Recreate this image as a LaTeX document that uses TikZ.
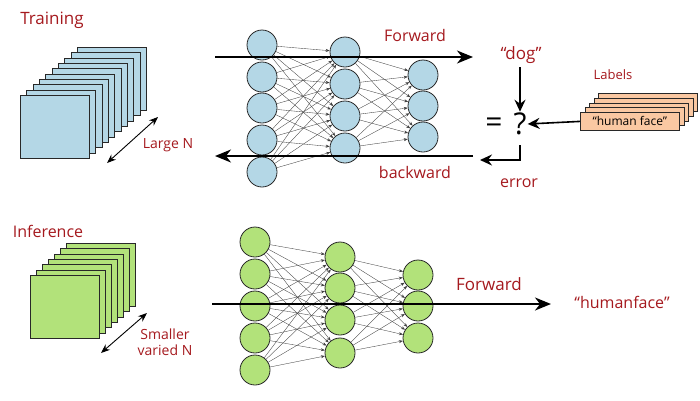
\documentclass[tikz,border=0pt]{standalone}
\usepackage{fontspec}
\setmainfont{Open Sans}
\usetikzlibrary{arrows.meta}
\definecolor{nblue}{RGB}{180,215,230}
\definecolor{ngreen}{RGB}{178,226,122}
\definecolor{npeach}{RGB}{250,200,162}
\definecolor{nred}{RGB}{165,25,30}
\definecolor{nline}{RGB}{40,40,40}
\newcommand{\fs}[1]{\fontsize{#1}{#1}\selectfont}
\begin{document}
\begin{tikzpicture}[x=1pt,y=-1pt,
  neuron/.style={circle,draw=nline,line width=0.8pt,minimum size=30pt,inner sep=0pt},
  bneuron/.style={neuron,fill=nblue},
  gneuron/.style={neuron,fill=ngreen},
  conn/.style={line width=0.35pt,draw=black!75,-{Stealth[length=4pt,width=3pt]}},
  flow/.style={line width=1.8pt,-{Stealth[length=16pt,width=13pt,inset=5pt]}},
  small flow/.style={line width=1.6pt,-{Stealth[length=12pt,width=11pt,inset=4pt]}},
  lbl/.style={text=nred,font=\fs{16}},
  sheet/.style={draw=nline,line width=1.1pt,minimum width=69pt,minimum height=63pt,inner sep=0pt,anchor=north west},
  labbox/.style={draw=nline,line width=0.8pt,fill=npeach,minimum width=99pt,minimum height=18pt,inner sep=0pt,anchor=north west,font=\fs{12}},
  dbl/.style={line width=0.9pt,{Stealth[length=9pt,width=7pt]}-{Stealth[length=9pt,width=7pt]}}
]
\useasboundingbox (0,0) rectangle (700,400);

% ---------- Training ----------
\node[lbl,font=\fs{17}] (ttitle) at (52,20) {Training};
\foreach \i in {9,...,0}
  \node[sheet,fill=nblue] (ts\i) at ({20+6.33*\i},{95-5.33*\i}) {};
\coordinate (tnA) at (107,163);
\coordinate (tnB) at (158,117);
\draw[dbl] (tnA) -- (tnB);
\node[lbl,font=\fs{14}] (tlarge) at (168,145) {Large N};

\foreach \y [count=\i] in {45,77,108,140,172}
  \node[bneuron] (ta\i) at (262,\y) {};
\foreach \y [count=\i] in {52,84,116,148}
  \node[bneuron] (tb\i) at (345,\y) {};
\foreach \y [count=\i] in {75,106,137}
  \node[bneuron] (tc\i) at (423,\y) {};
\foreach \i in {1,...,5}
  \foreach \j in {1,...,4}
    \draw[conn] (ta\i) -- (tb\j);
\foreach \i in {1,...,4}
  \foreach \j in {1,...,3}
    \draw[conn] (tb\i) -- (tc\j);

\coordinate (tfs) at (215,57);
\coordinate (tfe) at (473,57);
\draw[flow] (tfs) -- (tfe);
\coordinate (tbs) at (473,156);
\coordinate (tbe) at (215,156);
\draw[flow] (tbs) -- (tbe);
\node[lbl] (tfwd) at (415,35) {Forward};
\node[lbl] (tbwd) at (415,172) {backward};

\node[lbl,font=\fs{17}] (dog) at (521,55) {“dog”};
\node[font=\fs{30},inner sep=1pt] (qm) at (520,124) {?};
\node[font=\fs{30},inner sep=1pt] (eqs) at (494,125) {=};
\coordinate (dogA) at (520,67);
\draw[small flow] (dogA) -- (qm.north);

\node[lbl,font=\fs{13}] (labels) at (613,75) {Labels};
\foreach \i in {4,...,1}
  \node[labbox] (lb\i) at ({580+4.5*\i},{112-4.7*\i}) {};
\node[labbox] (lb0) at (580,112) {“human face”};
\draw[small flow] (lb0.west) -- (qm.east);

\coordinate (errA) at (520,145);
\coordinate (errend) at (480,160);
\draw[small flow] (errA) |- (errend);
\node[lbl,font=\fs{16}] (err) at (519,183) {error};

% ---------- Inference ----------
\node[lbl,font=\fs{16}] (ititle) at (48,231) {Inference};
\foreach \i in {6,...,0}
  \node[sheet,fill=ngreen] (is\i) at ({30+6*\i},{275-5.33*\i}) {};
\coordinate (inA) at (101,353);
\coordinate (inB) at (147,313);
\draw[dbl] (inA) -- (inB);
\node[lbl,font=\fs{14},align=center] (ismall) at (165,342) {Smaller\\[2pt]varied N};

\foreach \y [count=\i] in {242,274,306,338,370}
  \node[gneuron] (ia\i) at (255,\y) {};
\foreach \y [count=\i] in {257,288,320,353}
  \node[gneuron] (ib\i) at (340,\y) {};
\foreach \y [count=\i] in {275,306,338}
  \node[gneuron] (ic\i) at (418,\y) {};
\foreach \i in {1,...,5}
  \foreach \j in {1,...,4}
    \draw[conn] (ia\i) -- (ib\j);
\foreach \i in {1,...,4}
  \foreach \j in {1,...,3}
    \draw[conn] (ib\i) -- (ic\j);

\coordinate (ifs) at (212,304);
\coordinate (ife) at (551,304);
\draw[flow] (ifs) -- (ife);
\node[lbl,font=\fs{17}] (ifwd) at (489,284) {Forward};
\node[lbl,font=\fs{16}] (iout) at (622,302) {“humanface”};
\end{tikzpicture}
\end{document}
